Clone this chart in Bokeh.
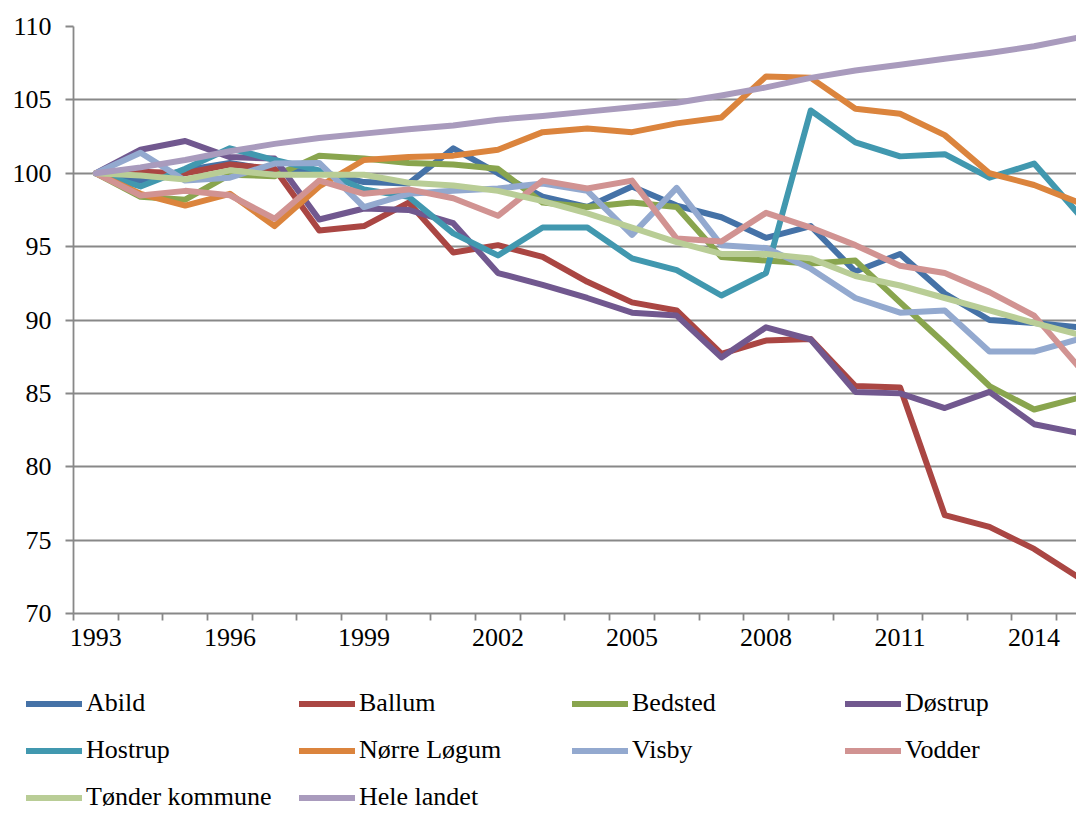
from bokeh.plotting import figure
from bokeh.models import FixedTicker, Legend, LegendItem, Range1d
from bokeh.layouts import column
from bokeh.embed import file_html
from bokeh.resources import INLINE

years = [1993, 1994, 1995, 1996, 1997, 1998, 1999, 2000, 2001, 2002, 2003, 2004,
         2005, 2006, 2007, 2008, 2009, 2010, 2011, 2012, 2013, 2014, 2015]
x_tick_labels = [1993, 1996, 1999, 2002, 2005, 2008, 2011, 2014]
y_ticks = [70, 75, 80, 85, 90, 95, 100, 105, 110]

abild = [100, 99.5, 100.2, 100.7, 100.2, 100.1, 99.4, 99.3, 101.7, 100.0, 98.4, 97.7,
         99.1, 97.8, 97.0, 95.6, 96.4, 93.3, 94.5, 91.8, 90.0, 89.8, 89.5]
ballum = [100, 100.1, 100.0, 100.6, 100.3, 96.1, 96.4, 98.0, 94.6, 95.1, 94.3, 92.6,
          91.2, 90.65, 87.7, 88.6, 88.7, 85.5, 85.4, 76.7, 75.9, 74.4, 72.45]
bedsted = [100, 98.4, 98.2, 99.9, 99.8, 101.2, 101.0, 100.7, 100.6, 100.3, 98.0, 97.7,
           98.0, 97.7, 94.3, 94.05, 93.85, 94.05, 91.2, 88.4, 85.5, 83.9, 84.7]
dostrup = [100, 101.6, 102.2, 101.1, 101.0, 96.85, 97.6, 97.5, 96.6, 93.2, 92.4, 91.5,
           90.5, 90.3, 87.45, 89.5, 88.67, 85.1, 85.0, 84.0, 85.1, 82.9, 82.3]
hostrup = [100, 99.1, 100.3, 101.7, 100.9, 100.2, 98.9, 98.4, 95.9, 94.4, 96.3, 96.3,
           94.2, 93.4, 91.67, 93.2, 104.28, 102.1, 101.15, 101.3, 99.7, 100.66, 97.2]
norre_logum = [100, 98.6, 97.8, 98.6, 96.4, 99.1, 100.9, 101.1, 101.2, 101.6, 102.8, 103.05,
               102.8, 103.4, 103.8, 106.6, 106.5, 104.4, 104.05, 102.6, 100.0, 99.2, 98.0]
visby = [100, 101.4, 99.5, 99.7, 100.66, 100.7, 97.7, 98.6, 98.8, 98.96, 99.3, 98.8,
         95.8, 99.0, 95.1, 94.9, 93.5, 91.5, 90.5, 90.65, 87.85, 87.85, 88.7]
vodder = [100, 98.48, 98.8, 98.5, 96.9, 99.5, 98.6, 98.9, 98.3, 97.1, 99.5, 98.96,
          99.5, 95.55, 95.35, 97.3, 96.3, 95.1, 93.7, 93.2, 91.9, 90.3, 86.8]
tonder = [100, 99.85, 99.57, 100.2, 99.9, 99.9, 99.9, 99.35, 99.17, 98.8, 98.1, 97.26,
          96.3, 95.3, 94.5, 94.5, 94.2, 93.0, 92.35, 91.5, 90.65, 89.8, 89.0]
hele_landet = [100, 100.4, 100.9, 101.5, 102.0, 102.4, 102.7, 103.0, 103.25, 103.65, 103.9, 104.2,
               104.5, 104.8, 105.3, 105.85, 106.5, 107.0, 107.4, 107.8, 108.2, 108.65, 109.25]

series_names = ["Abild", "Ballum", "Bedsted", "Døstrup", "Hostrup", "Nørre Løgum",
                "Visby", "Vodder", "Tønder kommune", "Hele landet"]
series_values = [abild, ballum, bedsted, dostrup, hostrup, norre_logum,
                 visby, vodder, tonder, hele_landet]
series_colors = ["#4572A7", "#AA4643", "#89A54E", "#71588F", "#4198AF", "#DB843D",
                 "#93A9CF", "#D19392", "#B9CD96", "#A99BBD"]

FONT = "Liberation Serif"
GRID = "#888888"

W = 1076
H1, H2 = 660, 152
LEFT, TOP, BOTTOM = 73, 26, 613

# ---- main chart ----
p = figure(width=W, height=H1, output_backend="svg", toolbar_location=None,
           x_range=Range1d(1992.5, 1992.5 + (W - LEFT) / 44.68), y_range=Range1d(70, 110),
           min_border_left=LEFT, min_border_right=0, min_border_top=TOP,
           min_border_bottom=H1 - BOTTOM)
p.outline_line_color = None
p.background_fill_color = "white"
p.border_fill_color = "white"
p.frame_align = False

for name, vals, col in zip(series_names, series_values, series_colors):
    p.line(years, vals, line_color=col, line_width=6, line_join="round", line_cap="round")

p.xgrid.grid_line_color = None
p.ygrid.grid_line_color = GRID
p.ygrid.grid_line_width = 1.8
p.ygrid.ticker = FixedTicker(ticks=y_ticks)

p.yaxis.ticker = FixedTicker(ticks=y_ticks)
p.yaxis.axis_line_color = GRID
p.yaxis.axis_line_width = 1.8
p.yaxis.major_tick_line_color = GRID
p.yaxis.major_tick_line_width = 1.8
p.yaxis.major_tick_out = 8
p.yaxis.major_tick_in = 0
p.yaxis.minor_tick_line_color = None
p.yaxis.major_label_standoff = 14
p.yaxis.major_label_text_font = FONT
p.yaxis.major_label_text_font_size = "26px"
p.yaxis.major_label_text_color = "black"

half_years = [y - 0.5 for y in years] + [years[-1] + 0.5]
p.xaxis.ticker = FixedTicker(ticks=x_tick_labels, minor_ticks=half_years)
p.xaxis.axis_line_color = GRID
p.xaxis.axis_line_width = 1.8
p.xaxis.major_tick_line_color = None
p.xaxis.major_tick_out = 7
p.xaxis.major_tick_in = 0
p.xaxis.minor_tick_line_color = GRID
p.xaxis.minor_tick_line_width = 1.8
p.xaxis.minor_tick_out = 7
p.xaxis.minor_tick_in = 0
p.xaxis.major_label_standoff = 8
p.xaxis.major_label_text_font = FONT
p.xaxis.major_label_text_font_size = "26px"
p.xaxis.major_label_text_color = "black"

# ---- legend strip ----
q = figure(width=W, height=H2, output_backend="svg", toolbar_location=None,
           x_axis_type=None, y_axis_type=None, x_range=Range1d(0, 1), y_range=Range1d(0, 1),
           min_border_left=0, min_border_right=0, min_border_top=0, min_border_bottom=0)
q.outline_line_color = None
q.xgrid.grid_line_color = None
q.ygrid.grid_line_color = None
q.frame_align = False
items = []
for name, col in zip(series_names, series_colors):
    r = q.line(x=[float("nan")], y=[float("nan")], line_color=col, line_width=6, line_cap="round")
    items.append(LegendItem(label=name, renderers=[r]))

legend = Legend(items=items, ncols=4, orientation="horizontal", location=(26, 0),
                glyph_width=56, glyph_height=29, label_height=29, label_width=196,
                label_standoff=4, spacing=17, padding=0, margin=0,
                border_line_color=None, background_fill_alpha=0,
                label_text_font=FONT, label_text_font_size="26px", label_text_color="black")
q.add_layout(legend, "center")

layout = column(p, q, spacing=0)
open("out.html", "w").write(file_html(layout, INLINE))
